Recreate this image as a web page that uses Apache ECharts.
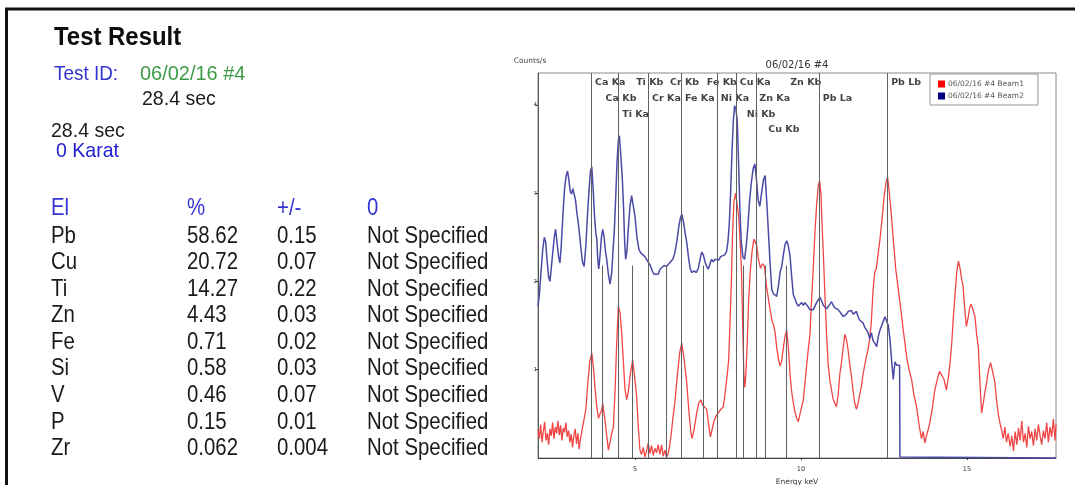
<!DOCTYPE html>
<html>
<head>
<meta charset="utf-8">
<title>Test Result</title>
<script src="https://cdn.jsdelivr.net/npm/echarts@6/dist/echarts.min.js"></script>
<style>
  html, body { margin: 0; padding: 0; background: #fff; }
  #main { width: 1075px; height: 485px; }
</style>
</head>
<body>
<div id="main"></div>
<script>
// ---- report data ----
const testId = '06/02/16 #4';
const testTime = '28.4 sec';
const karat = '0 Karat';
const tableHead = ['El', '%', '+/-', '0'];
const elements = ['Pb', 'Cu', 'Ti', 'Zn', 'Fe', 'Si', 'V', 'P', 'Zr'];
const percents = ['58.62', '20.72', '14.27', '4.43', '0.71', '0.58', '0.46', '0.15', '0.062'];
const errors = ['0.15', '0.07', '0.22', '0.03', '0.02', '0.03', '0.07', '0.01', '0.004'];
const grades = ['Not Specified', 'Not Specified', 'Not Specified', 'Not Specified', 'Not Specified',
  'Not Specified', 'Not Specified', 'Not Specified', 'Not Specified'];

// ---- spectrum (keV, counts/s) ----
const beam1 = [
  [2.08,0.32],[2.12,0.22],[2.16,0.38],[2.20,0.18],[2.24,0.30],[2.28,0.41],[2.32,0.20],[2.36,0.28],
  [2.40,0.15],[2.44,0.33],[2.48,0.25],[2.52,0.40],[2.56,0.22],[2.60,0.35],[2.64,0.28],[2.68,0.42],
  [2.72,0.26],[2.76,0.37],[2.80,0.20],[2.84,0.34],[2.88,0.29],[2.92,0.40],[2.96,0.24],[3.00,0.31],
  [3.04,0.18],[3.08,0.27],[3.12,0.12],[3.16,0.25],[3.20,0.33],[3.24,0.16],[3.28,0.28],[3.32,0.10],
  [3.36,0.22],[3.40,0.30],[3.45,0.32],[3.52,0.55],[3.58,0.85],[3.64,1.10],[3.70,1.19],[3.75,1.02],
  [3.80,0.78],[3.85,0.58],[3.90,0.45],[3.95,0.43],[4.00,0.55],[4.03,0.62],[4.07,0.50],[4.10,0.43],
  [4.15,0.25],[4.20,0.09],[4.25,0.18],[4.30,0.28],[4.35,0.35],[4.40,0.75],[4.45,1.30],[4.50,1.72],
  [4.55,1.65],[4.60,1.42],[4.65,1.10],[4.70,0.78],[4.75,0.66],[4.80,0.75],[4.86,0.95],[4.93,1.11],
  [4.98,0.95],[5.05,0.70],[5.10,0.35],[5.15,0.09],[5.20,0.04],[5.25,0.12],[5.30,0.01],[5.35,0.08],
  [5.40,0.17],[5.45,0.05],[5.50,0.14],[5.55,0.03],[5.60,0.11],[5.65,0.06],[5.70,0.15],[5.75,0.04],
  [5.80,0.15],[5.85,0.02],[5.90,0.09],[5.95,0.01],[6.00,0.05],[6.05,0.15],[6.10,0.30],[6.15,0.48],
  [6.20,0.62],[6.28,0.95],[6.35,1.20],[6.41,1.30],[6.48,1.12],[6.56,0.85],[6.62,0.55],[6.68,0.30],
  [6.72,0.22],[6.78,0.32],[6.86,0.51],[6.92,0.62],[6.98,0.66],[7.04,0.60],[7.10,0.62],[7.16,0.55],
  [7.22,0.38],[7.27,0.24],[7.32,0.32],[7.38,0.42],[7.45,0.48],[7.51,0.51],[7.58,0.55],[7.66,0.58],
  [7.72,0.75],[7.78,0.95],[7.82,1.10],[7.86,1.50],[7.90,1.95],[7.94,2.55],[7.98,2.90],[8.03,3.00],
  [8.07,2.98],[8.12,2.75],[8.17,2.45],[8.21,2.10],[8.25,1.40],[8.28,0.95],[8.31,0.80],[8.34,0.95],
  [8.38,1.30],[8.42,1.75],[8.47,2.10],[8.53,2.35],[8.58,2.48],[8.62,2.50],[8.67,2.40],[8.72,2.25],
  [8.78,2.15],[8.84,2.20],[8.90,2.17],[8.96,1.95],[9.02,1.80],[9.07,1.68],[9.13,1.55],[9.18,1.50],
  [9.22,1.42],[9.27,1.25],[9.32,1.12],[9.37,1.04],[9.42,1.10],[9.47,1.25],[9.52,1.38],[9.57,1.45],
  [9.62,1.25],[9.67,0.95],[9.72,0.75],[9.77,0.62],[9.82,0.52],[9.87,0.45],[9.92,0.41],[9.97,0.50],
  [10.02,0.58],[10.07,0.66],[10.12,0.85],[10.17,1.05],[10.22,1.23],[10.27,1.40],[10.32,1.80],[10.37,2.15],
  [10.42,2.55],[10.47,2.86],[10.52,3.08],[10.56,3.14],[10.60,3.00],[10.64,2.60],[10.68,2.25],[10.72,1.85],
  [10.77,1.40],[10.82,1.05],[10.87,0.88],[10.92,0.77],[10.97,0.66],[11.02,0.62],[11.07,0.58],[11.12,0.72],
  [11.17,0.95],[11.22,1.08],[11.27,1.25],[11.32,1.40],[11.37,1.34],[11.42,1.22],[11.47,1.05],[11.52,0.92],
  [11.57,0.75],[11.62,0.62],[11.67,0.55],[11.72,0.62],[11.77,0.72],[11.82,0.81],[11.87,0.95],[11.92,1.05],
  [11.97,1.15],[12.02,1.23],[12.07,1.35],[12.12,1.55],[12.17,1.90],[12.22,2.10],[12.27,2.15],[12.32,2.30],
  [12.38,2.48],[12.44,2.70],[12.50,2.95],[12.56,3.12],[12.61,3.18],[12.66,3.00],[12.71,2.80],[12.78,2.48],
  [12.85,2.15],[12.93,1.91],[13.00,1.70],[13.08,1.45],[13.13,1.30],[13.20,1.10],[13.27,0.98],[13.33,0.89],
  [13.40,0.72],[13.48,0.58],[13.53,0.45],[13.58,0.32],[13.63,0.22],[13.68,0.30],[13.73,0.17],[13.78,0.25],
  [13.83,0.32],[13.88,0.40],[13.95,0.55],[14.03,0.77],[14.10,0.88],[14.17,0.98],[14.23,1.00],[14.30,0.90],
  [14.38,0.77],[14.44,0.92],[14.49,1.08],[14.54,1.30],[14.59,1.60],[14.64,1.85],[14.69,2.10],[14.74,2.23],
  [14.79,2.15],[14.84,2.02],[14.88,1.95],[14.93,1.70],[14.98,1.49],[15.03,1.58],[15.08,1.70],[15.12,1.74],
  [15.18,1.68],[15.24,1.60],[15.29,1.40],[15.34,1.26],[15.39,0.85],[15.44,0.51],[15.49,0.62],[15.54,0.75],
  [15.59,0.85],[15.65,1.00],[15.71,1.08],[15.77,0.98],[15.84,0.85],[15.90,0.62],[15.95,0.48],[15.99,0.40],
  [16.04,0.32],[16.09,0.22],[16.14,0.35],[16.19,0.18],[16.24,0.28],[16.30,0.13],[16.35,0.25],[16.40,0.08],
  [16.45,0.30],[16.50,0.15],[16.55,0.34],[16.60,0.20],[16.65,0.42],[16.70,0.18],[16.75,0.28],[16.80,0.12],
  [16.85,0.36],[16.90,0.22],[16.95,0.30],[17.00,0.14],[17.05,0.33],[17.10,0.20],[17.15,0.38],[17.20,0.25],
  [17.25,0.15],[17.30,0.31],[17.35,0.22],[17.40,0.40],[17.45,0.18],[17.50,0.35],[17.55,0.24],[17.60,0.44],
  [17.65,0.20],[17.68,0.38]
];
const beam2 = [
  [2.08,1.72],[2.12,1.85],[2.17,2.10],[2.22,2.35],[2.27,2.50],[2.31,2.45],[2.35,2.25],[2.40,2.05],
  [2.44,2.00],[2.48,2.15],[2.53,2.35],[2.57,2.50],[2.61,2.59],[2.65,2.45],[2.70,2.28],[2.74,2.21],
  [2.78,2.40],[2.83,2.75],[2.88,3.05],[2.93,3.20],[2.97,3.25],[3.01,3.15],[3.05,3.02],[3.09,2.99],
  [3.13,3.05],[3.17,3.05],[3.21,2.92],[3.25,2.78],[3.29,2.67],[3.34,2.50],[3.38,2.35],[3.42,2.22],
  [3.47,2.17],[3.52,2.40],[3.57,2.75],[3.62,3.05],[3.66,3.25],[3.70,3.30],[3.74,3.05],[3.78,2.75],
  [3.82,2.55],[3.85,2.48],[3.88,2.25],[3.91,2.14],[3.95,2.30],[3.99,2.50],[4.03,2.59],[4.07,2.50],
  [4.11,2.35],[4.15,2.25],[4.20,2.08],[4.25,1.97],[4.30,2.10],[4.34,2.35],[4.38,2.59],[4.42,2.95],
  [4.46,3.35],[4.50,3.60],[4.53,3.65],[4.57,3.45],[4.62,3.16],[4.66,2.80],[4.69,2.45],[4.72,2.25],
  [4.76,2.35],[4.80,2.60],[4.85,2.85],[4.90,2.97],[4.94,2.95],[5.00,2.74],[5.06,2.50],[5.12,2.36],
  [5.18,2.32],[5.24,2.33],[5.30,2.28],[5.35,2.25],[5.40,2.23],[5.46,2.18],[5.52,2.12],[5.58,2.08],
  [5.64,2.06],[5.70,2.08],[5.76,2.14],[5.82,2.12],[5.88,2.18],[5.95,2.17],[6.02,2.20],[6.08,2.22],
  [6.14,2.25],[6.20,2.32],[6.26,2.45],[6.32,2.62],[6.37,2.72],[6.41,2.76],[6.46,2.68],[6.51,2.55],
  [6.56,2.44],[6.61,2.28],[6.66,2.15],[6.71,2.10],[6.78,2.12],[6.85,2.10],[6.91,2.15],[6.96,2.25],
  [7.01,2.33],[7.06,2.30],[7.11,2.22],[7.16,2.17],[7.21,2.14],[7.26,2.20],[7.31,2.25],[7.36,2.22],
  [7.41,2.25],[7.46,2.27],[7.52,2.24],[7.58,2.28],[7.64,2.26],[7.70,2.30],[7.76,2.34],[7.80,2.45],
  [7.84,2.65],[7.88,3.00],[7.92,3.45],[7.96,3.80],[8.00,3.99],[8.04,3.95],[8.08,3.82],[8.12,3.35],
  [8.16,2.82],[8.20,2.45],[8.25,2.28],[8.30,2.25],[8.35,2.40],[8.40,2.62],[8.45,2.90],[8.50,3.10],
  [8.56,3.28],[8.61,3.33],[8.66,3.15],[8.71,2.92],[8.76,2.85],[8.82,3.02],[8.87,3.15],[8.92,3.20],
  [8.97,2.90],[9.02,2.55],[9.07,2.20],[9.12,1.91],[9.17,1.86],[9.22,1.88],[9.27,1.83],[9.32,1.95],
  [9.37,2.10],[9.42,2.17],[9.47,2.30],[9.52,2.42],[9.57,2.46],[9.62,2.40],[9.67,2.29],[9.72,2.05],
  [9.77,1.85],[9.82,1.80],[9.87,1.75],[9.92,1.72],[9.97,1.72],[10.02,1.76],[10.07,1.73],[10.12,1.76],
  [10.17,1.74],[10.22,1.71],[10.27,1.68],[10.32,1.70],[10.37,1.68],[10.42,1.72],[10.47,1.76],[10.52,1.79],
  [10.57,1.82],[10.62,1.78],[10.67,1.73],[10.72,1.71],[10.77,1.69],[10.82,1.70],[10.87,1.74],[10.92,1.77],
  [10.97,1.73],[11.02,1.70],[11.07,1.72],[11.12,1.68],[11.17,1.66],[11.22,1.63],[11.27,1.60],[11.32,1.62],
  [11.37,1.63],[11.42,1.66],[11.47,1.64],[11.52,1.67],[11.57,1.63],[11.62,1.65],[11.67,1.66],[11.72,1.60],
  [11.77,1.56],[11.82,1.55],[11.87,1.53],[11.92,1.48],[11.97,1.45],[12.02,1.42],[12.07,1.35],[12.12,1.42],
  [12.17,1.33],[12.22,1.30],[12.28,1.26],[12.33,1.38],[12.38,1.45],[12.43,1.50],[12.48,1.55],[12.53,1.60],
  [12.58,1.62],[12.63,1.50],[12.68,1.34],[12.73,1.10],[12.78,0.89],[12.83,1.09],[12.88,1.05],[12.93,1.07],
  [12.97,1.05],[12.98,0.01],[13.00,0.00],[17.68,0.00]
];

// ---- emission line markers ----
const lineNames = ['Ca Ka', 'Ca Kb', 'Ti Ka', 'Ti Kb', 'Cr Ka', 'Cr Kb', 'Fe Ka', 'Fe Kb',
  'Ni Ka', 'Cu Ka', 'Ni Kb', 'Zn Ka', 'Cu Kb', 'Zn Kb', 'Pb La', 'Pb Lb'];
const lineKev = [3.69, 4.01, 4.51, 4.93, 5.41, 5.95, 6.40, 7.06, 7.48, 8.05, 8.26, 8.64, 8.91, 9.57, 10.55, 12.61];
const lineTops = [4.36, 2.18, 4.36, 2.18, 4.36, 2.18, 4.36, 2.18, 4.36, 4.36, 2.18, 4.36, 2.18, 2.18, 4.36, 4.36];
const labelRows = [4.25, 4.07, 3.89, 4.25, 4.07, 4.25, 4.07, 4.25, 4.07, 4.25, 3.89, 4.07, 3.72, 4.25, 4.07, 4.25];

const xTicks = [5, 10, 15];
const yTicks = [1, 2, 3, 4];

const chart = echarts.init(document.getElementById('main'), null, { renderer: 'canvas' });

// left panel texts
const FONT = '"Liberation Sans", Arial, sans-serif';
const SMALL = '"DejaVu Sans", Verdana, sans-serif';
const BLUE = '#3434d2';
function txt(text, x, y, size, color, sx, bold) {
  return {
    type: 'text', x: x, y: y, scaleX: sx,
    style: {
      text: text, fill: color, textVerticalAlign: 'middle',
      font: (bold ? 'bold ' : '') + size + 'px ' + FONT
    }
  };
}
const graphics = [
  { type: 'line', shape: { x1: 5, y1: 9, x2: 1075, y2: 9 }, style: { stroke: '#111', lineWidth: 3 } },
  { type: 'line', shape: { x1: 6.5, y1: 8, x2: 6.5, y2: 485 }, style: { stroke: '#111', lineWidth: 3 } },
  txt('Test Result', 54, 38, 26, '#0d0d0d', 0.92, true),
  txt('Test ID:', 54, 74, 21, BLUE, 0.9),
  txt(testId, 140, 74, 21, '#3d9a46', 0.95),
  txt(testTime, 142, 99, 21, '#1a1a1a', 0.93),
  txt(testTime, 51, 131, 21, '#1a1a1a', 0.93),
  txt(karat, 56, 151, 21, '#2020d0', 0.93)
];
const colX = [51, 187, 277, 367];
tableHead.forEach(function (h, i) {
  graphics.push(txt(h, colX[i], 208, 24, BLUE, 0.85));
});
elements.forEach(function (el, r) {
  const y = 236 + r * 26.56;
  graphics.push(txt(el, colX[0], y, 24, '#1a1a1a', 0.85));
  graphics.push(txt(percents[r], colX[1], y, 24, '#1a1a1a', 0.85));
  graphics.push(txt(errors[r], colX[2], y, 24, '#1a1a1a', 0.85));
  graphics.push(txt(grades[r], colX[3], y, 24, '#1a1a1a', 0.85));
});

const markerLines = lineKev.map(function (k, i) {
  return [{ coord: [k, 0] }, { coord: [k, lineTops[i]] }];
});
const markerLabels = lineKev.map(function (k, i) {
  return { value: [k, labelRows[i]], name: lineNames[i] };
});

const option = {
  animation: false,
  backgroundColor: '#ffffff',
  title: {
    text: testId,
    left: 797, top: 60, textAlign: 'center', padding: 0,
    textStyle: { fontSize: 10, fontWeight: 'normal', color: '#333', fontFamily: SMALL }
  },
  legend: {
    orient: 'vertical',
    left: 930, top: 74,
    padding: [6, 14, 5, 8],
    itemWidth: 7, itemHeight: 7, itemGap: 4,
    borderColor: '#999', borderWidth: 1,
    icon: 'rect',
    textStyle: { fontSize: 7.5, color: '#555', fontFamily: SMALL, padding: [0, 0, 0, -2] },
    data: [
      { name: testId + ' Beam1', itemStyle: { color: '#ff0000' } },
      { name: testId + ' Beam2', itemStyle: { color: '#000080' } }
    ]
  },
  graphic: graphics,
  grid: {
    left: 538, right: 19, top: 73, bottom: 27,
    outerBoundsMode: 'none',
    containLabel: false,
    show: true, borderColor: '#8a8a8a', borderWidth: 1
  },
  xAxis: {
    type: 'value', min: 2.08, max: 17.68,
    name: 'Energy keV', nameLocation: 'middle', nameGap: 16,
    nameTextStyle: { fontSize: 7.5, color: '#333', fontFamily: SMALL },
    axisLine: { lineStyle: { color: '#444' } },
    axisTick: { customValues: xTicks, length: 2, lineStyle: { color: '#333' } },
    axisLabel: { customValues: xTicks, fontSize: 6.5, color: '#333', margin: 8, fontFamily: SMALL },
    splitLine: { show: false }
  },
  yAxis: {
    type: 'value', min: 0, max: 4.36,
    name: 'Counts/s', nameLocation: 'end', nameGap: 8,
    nameTextStyle: { fontSize: 7.5, color: '#444', fontFamily: SMALL, align: 'center', padding: [0, 16, 0, 0] },
    axisLine: { show: true, lineStyle: { color: '#555' } },
    axisTick: { show: true, customValues: yTicks, length: 3, lineStyle: { color: '#444' } },
    axisLabel: { customValues: yTicks, fontSize: 5.5, color: '#444', margin: 1, fontFamily: SMALL },
    splitLine: { show: false }
  },
  series: [
    {
      name: 'markers',
      type: 'scatter',
      symbol: 'circle', symbolSize: 1,
      itemStyle: { color: 'transparent' },
      z: 1,
      silent: true,
      data: markerLabels,
      label: {
        show: true, position: 'right', distance: 3,
        formatter: function (p) { return p.name; },
        fontSize: 9.5, fontWeight: 'bold', color: '#111', fontFamily: SMALL
      },
      markLine: {
        silent: true, symbol: 'none', animation: false,
        label: { show: false },
        lineStyle: { color: '#616161', width: 1, type: 'solid' },
        data: markerLines
      }
    },
    {
      name: testId + ' Beam1',
      type: 'line', z: 3,
      showSymbol: false, symbol: 'none',
      lineStyle: { color: '#f24646', width: 1.3 },
      itemStyle: { color: '#ff0000' },
      data: beam1
    },
    {
      name: testId + ' Beam2',
      type: 'line', z: 4,
      showSymbol: false, symbol: 'none',
      lineStyle: { color: '#4a4aa6', width: 1.5 },
      itemStyle: { color: '#000080' },
      data: beam2
    }
  ]
};
chart.setOption(option);
</script>
</body>
</html>
